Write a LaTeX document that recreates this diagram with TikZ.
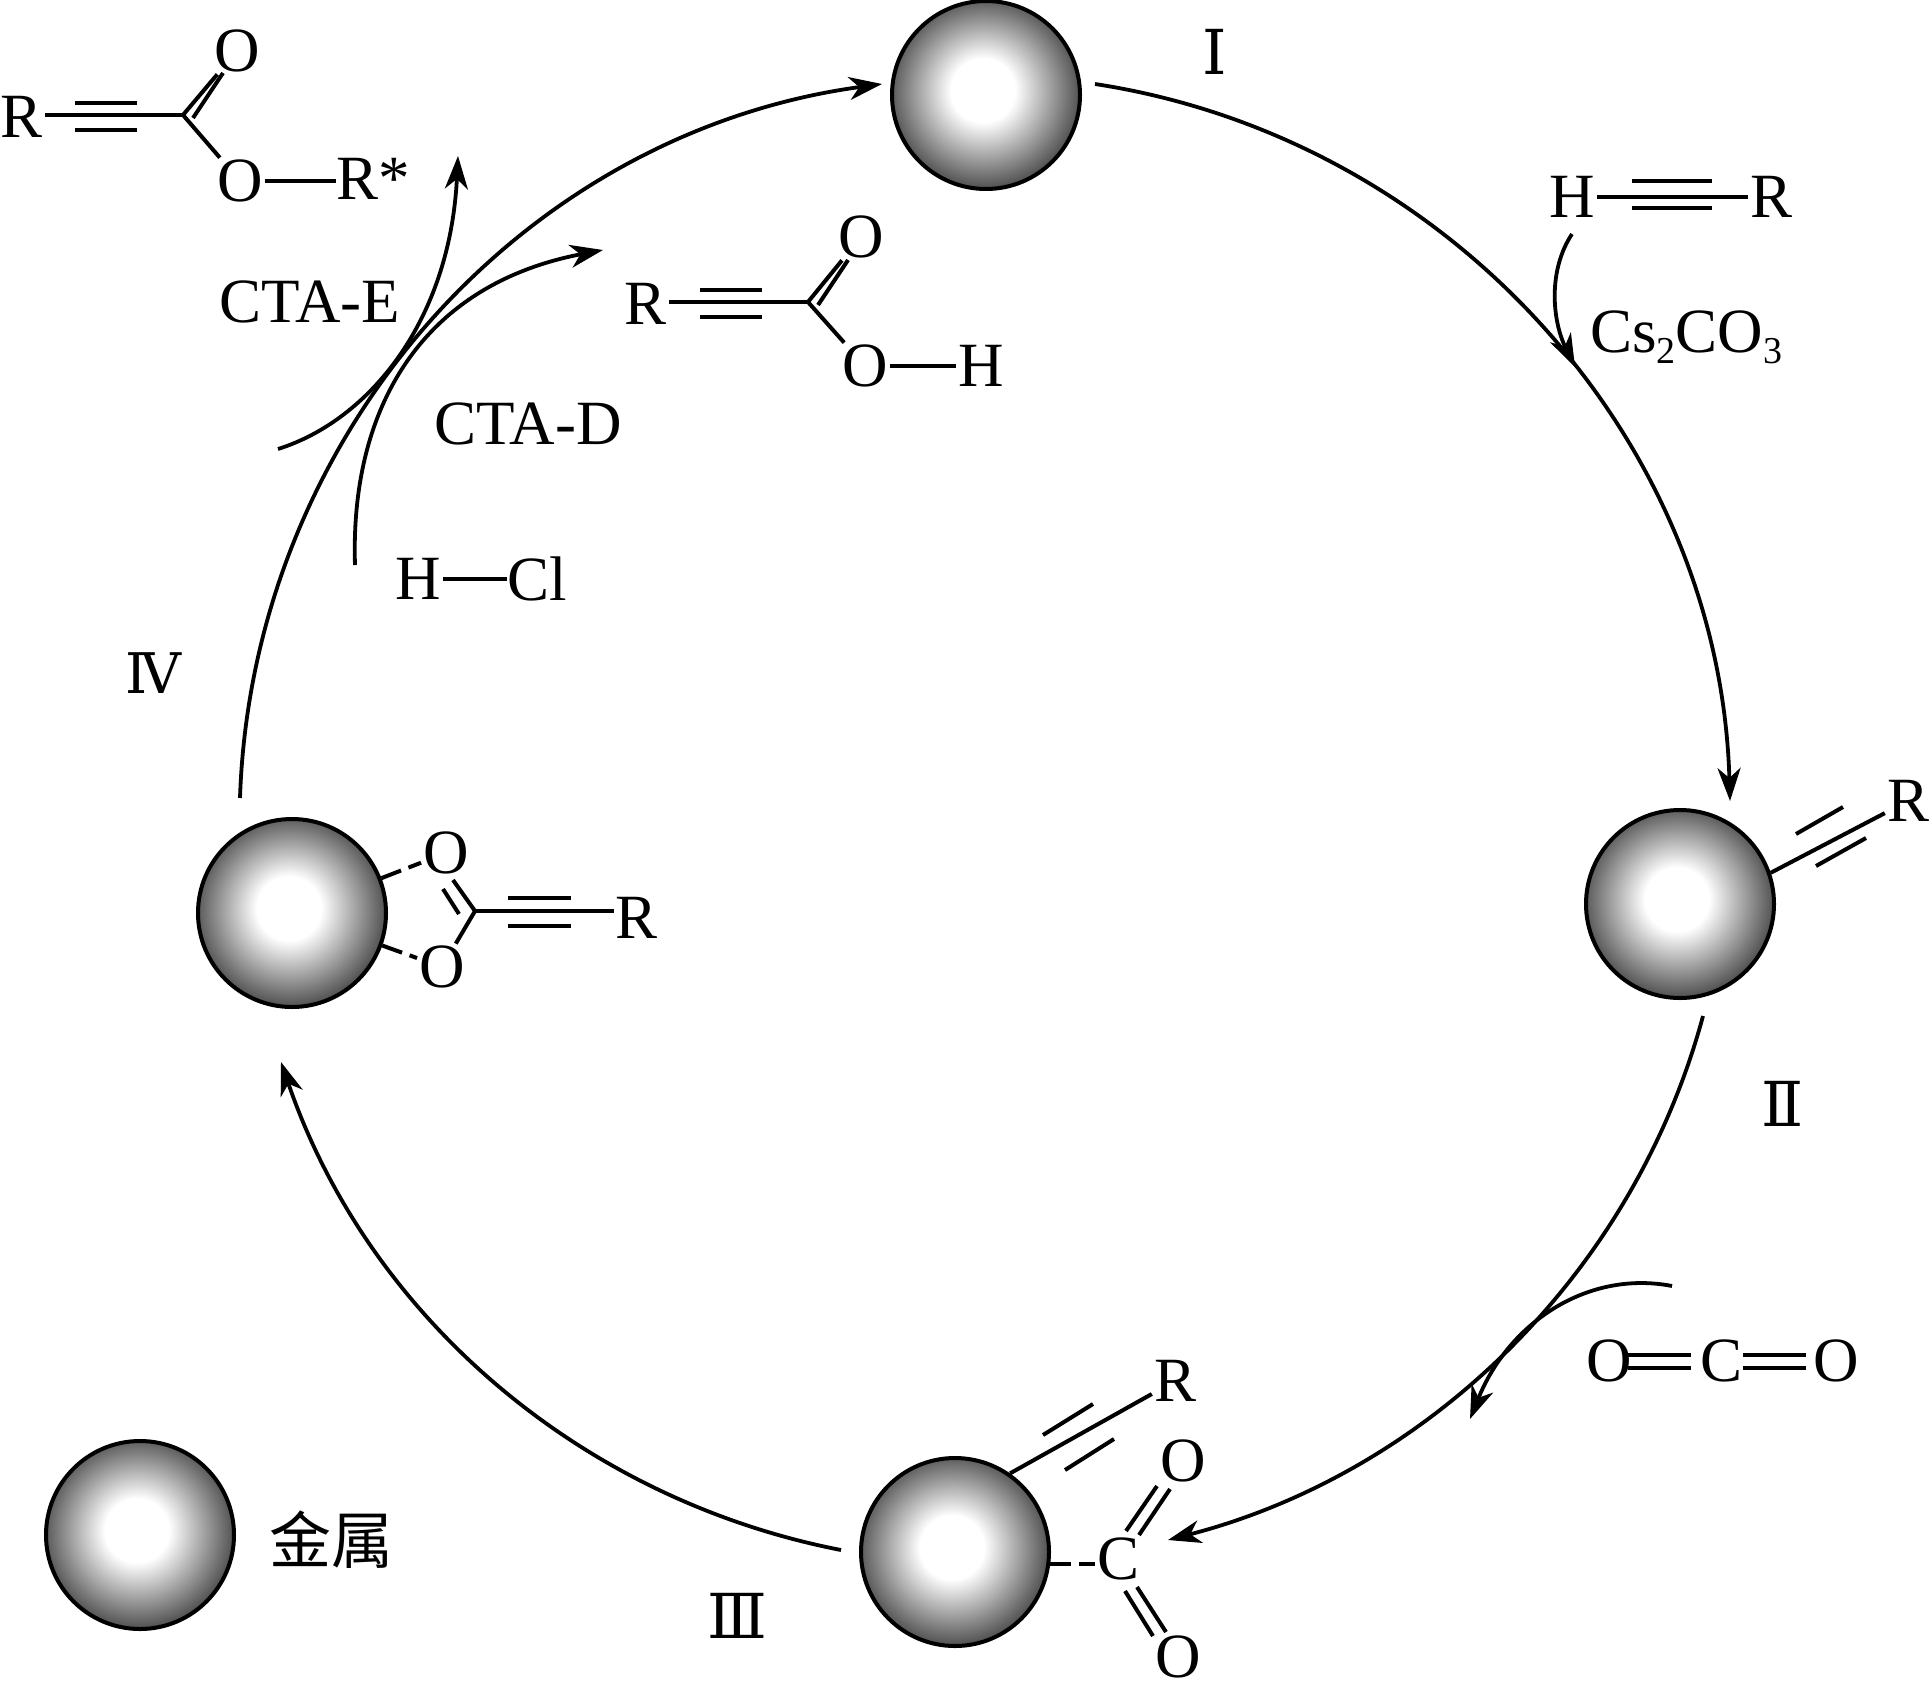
\documentclass[tikz,border=0pt]{standalone}
\usepackage{fontspec}
\setmainfont{Liberation Serif}
\newfontfamily\cjkfont{Noto Sans CJK SC}
\newfontfamily\romanfont{DejaVu Serif}
\usetikzlibrary{arrows.meta}
\pgfdeclareradialshading{metalshade}{\pgfpoint{-1bp}{1.5bp}}{color(0bp)=(white); color(8.5bp)=(white); color(26bp)=(black!70); color(50bp)=(black!70)}
\tikzset{
  ball/.style={circle,draw=black,line width=4pt,minimum size=188pt,inner sep=0pt,shading=metalshade},
  chem/.style={font=\fontsize{63}{63}\selectfont,inner sep=2pt,text=black},
  roman/.style={font=\romanfont\fontsize{62}{62}\selectfont,inner sep=0pt},
  cn/.style={font=\cjkfont\fontsize{62}{62}\selectfont,inner sep=0pt},
  bond/.style={line width=4pt},
  dashbond/.style={line width=4pt,dash pattern=on 21pt off 8pt},
  cycle/.style={line width=3.8pt,-{Stealth[length=33pt,width=23pt,inset=10pt]}},
  side/.style={line width=3.8pt,-{Stealth[length=33pt,width=23pt,inset=10pt]}},
}
\begin{document}
\begin{tikzpicture}[x=1pt,y=-1pt]
\useasboundingbox (0,0) rectangle (1932,1697);
% metal balls
\node[ball] (m1) at (986,95) {};
\node[ball] (m2) at (1680,904) {};
\node[ball] (m3) at (955,1552) {};
\node[ball] (m4) at (292,913) {};
\node[ball] (m0) at (140,1535) {};
\node[cn] (leg) at (331,1540) {金属};
% numerals
\node[roman] (n1) at (1215,52) {Ⅰ};
\node[roman] (n2) at (1783,1104) {Ⅱ};
\node[roman] (n3) at (737,1616) {Ⅲ};
\node[roman,font=\romanfont\fontsize{56}{56}\selectfont] (n4) at (153,673) {Ⅳ};
% cycle
\coordinate (a1s) at (1095,84);
\coordinate (a1e) at (1730,801);
\coordinate (a2s) at (1703,1016);
\coordinate (a2e) at (1168,1540);
\coordinate (a3s) at (841,1550);
\coordinate (a3e) at (281,1062);
\coordinate (a4s) at (240,798);
\coordinate (a4e) at (882,84);
\draw[cycle] (a1s) .. controls (1450.5,138.4) and (1720,441.5) .. (a1e);
\draw[cycle] (a2s) .. controls (1633,1275) and (1427,1473) .. (a2e);
\draw[cycle] (a3s) .. controls (579,1499) and (367.5,1315) .. (a3e);
\draw[cycle] (a4s) .. controls (252,435) and (522,133) .. (a4e);
% ester, top left
\node[chem] (er) at (22,117) {R};
\coordinate (ec) at (183,115);
\node[chem] (eo1) at (237,51) {O};
\node[chem] (eo2) at (240,181) {O};
\node[chem,anchor=west,inner sep=0pt] (ers) at (336,179) {R*};
\draw[bond] (er.east |- ec) -- (ec);
\draw[bond] (75,103) -- (137,103) (75,130) -- (137,130);
\draw[bond] (ec) -- (eo1);
\draw[bond] (193,118) -- (223,73);
\draw[bond] (ec) -- (eo2);
\draw[bond] (eo2.east) -- (eo2.east -| ers.west);
% acid
\node[chem] (ar) at (646,304) {R};
\coordinate (ac) at (808,302);
\node[chem] (ao1) at (861,237) {O};
\node[chem] (ao2) at (865,366) {O};
\node[chem] (ah) at (981,366) {H};
\draw[bond] (ar.east |- ac) -- (ac);
\draw[bond] (700,290) -- (762,290) (700,317) -- (762,317);
\draw[bond] (ac) -- (ao1);
\draw[bond] (818,305) -- (848,260);
\draw[bond] (ac) -- (ao2);
\draw[bond] (ao2) -- (ah);
% side arrows, top left
\coordinate (es) at (278,449);
\coordinate (ee) at (458,156);
\coordinate (ds) at (355,565);
\coordinate (de) at (603,250);
\draw[side] (es) .. controls (370,420) and (450,320) .. (ee);
\draw[side] (ds) .. controls (350,410) and (420,285) .. (de);
\node[chem,inner sep=0pt] (ctae) at (310,302) {CTA-E};
\node[chem,inner sep=0pt] (ctad) at (528,424) {CTA-D};
\node[chem] (hh) at (418,579) {H};
\node[chem,inner sep=0pt] (cl) at (537,579) {Cl};
\draw[bond] (hh) -- (cl);
% acetylene, top right
\node[chem] (th) at (1572,197) {H};
\node[chem] (tr) at (1771,197) {R};
\draw[bond] (th) -- (tr);
\draw[bond] (1632,181) -- (1712,181) (1632,208) -- (1712,208);
\coordinate (cs) at (1572,234);
\coordinate (ce) at (1575,367);
\draw[side] (cs) .. controls (1548,270) and (1552,320) .. (ce);
\node[chem,anchor=base west,inner sep=0pt] (cso) at (1590,352) {Cs\raisebox{-11pt}{\fontsize{38}{38}\selectfont 2}CO\raisebox{-11pt}{\fontsize{38}{38}\selectfont 3}};
% ball II
\node[chem] (r2) at (1908,801) {R};
\draw[bond] (m2.19) -- (r2);
\draw[bond] (1796,834) -- (1843,807) (1816,866) -- (1866,838);
% CO2
\node[chem] (co1) at (1609,1361) {O};
\node[chem] (cc) at (1721,1361) {C};
\node[chem] (co2) at (1836,1361) {O};
\draw[bond] (1628,1355) -- (1691,1355) (1628,1368) -- (1691,1368);
\draw[bond] (1743,1355) -- (1806,1355) (1743,1368) -- (1806,1368);
\coordinate (ts) at (1672,1286);
\coordinate (te) at (1470,1419);
\draw[side] (ts) .. controls (1590,1270) and (1510,1320) .. (te);
% ball III
\node[chem] (r3) at (1175,1381) {R};
\draw[bond] (m3.55) -- (r3);
\draw[bond] (1043,1435) -- (1093,1404) (1065,1470) -- (1114,1439);
\node[chem] (c3) at (1118,1559) {C};
\node[chem] (o3a) at (1183,1461) {O};
\node[chem] (o3b) at (1178,1657) {O};
\draw[dashbond] (m3.-7) -- (m3.-7 -| c3.west);
\draw[bond] (1126,1531) -- (1157,1486) (1139,1535) -- (1170,1489);
\draw[bond] (1125,1591) -- (1153,1636) (1137,1587) -- (1166,1632);
% ball IV
\node[chem] (o4a) at (446,853) {O};
\node[chem] (o4b) at (442,967) {O};
\node[chem] (r4) at (637,918) {R};
\coordinate (c4) at (475,911);
\draw[dashbond] (m4) -- (o4a);
\draw[dashbond] (m4) -- (o4b);
\draw[bond] (c4) -- (c4 -| r4.west);
\draw[bond] (508,898) -- (571,898) (508,926) -- (571,926);
\draw[bond] (c4) -- (453,880);
\draw[bond] (459,914) -- (443,889);
\draw[bond] (c4) -- (o4b);
\end{tikzpicture}
\end{document}
